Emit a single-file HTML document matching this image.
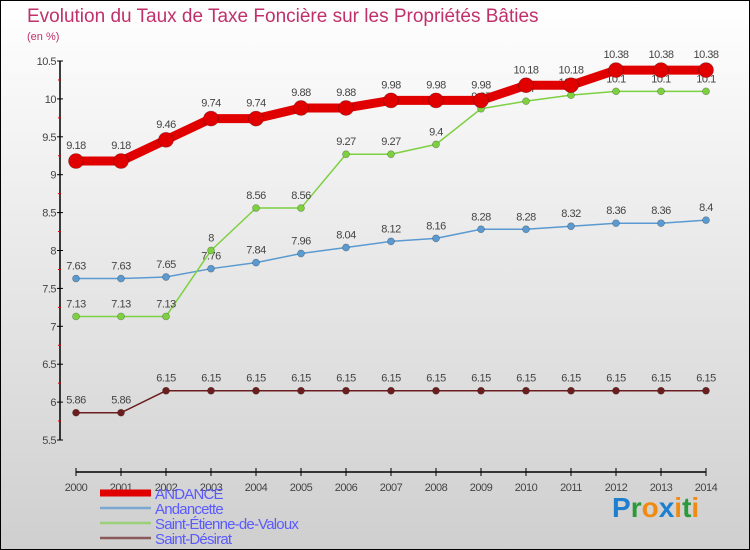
<!DOCTYPE html>
<html><head><meta charset="utf-8"><style>
body{margin:0}
#c{width:750px;height:550px;position:relative;overflow:hidden;box-sizing:border-box;border:1px solid #000;background:linear-gradient(#ffffff,#cfcfcf);font-family:"Liberation Sans",sans-serif}
</style></head><body>
<div id="c">
<svg id="s" width="750" height="550" style="position:absolute;left:-1px;top:-1px">
<text x="27" y="22" font-size="19" fill="#c0306a">Evolution du Taux de Taxe Foncière sur les Propriétés Bâties</text>
<text x="27" y="40" font-size="11" fill="#c0306a">(en %)</text>
<g id="g"></g>
<text x="612" y="517" font-size="28" font-weight="bold" fill="#1e7fd0">P<tspan fill="#2a9a3a">r</tspan><tspan fill="#f08a10">o</tspan><tspan fill="#1e7fd0">x</tspan><tspan fill="#f08a10">i</tspan><tspan fill="#2a9a3a">t</tspan><tspan fill="#f08a10">i</tspan></text>
</svg>
</div>
<script>
const years=[2000,2001,2002,2003,2004,2005,2006,2007,2008,2009,2010,2011,2012,2013,2014];
const yTicks=[5.5,6,6.5,7,7.5,8,8.5,9,9.5,10,10.5];
const andance=[9.18,9.18,9.46,9.74,9.74,9.88,9.88,9.98,9.98,9.98,10.18,10.18,10.38,10.38,10.38];
const andancette=[7.63,7.63,7.65,7.76,7.84,7.96,8.04,8.12,8.16,8.28,8.28,8.32,8.36,8.36,8.4];
const stEtienne=[7.13,7.13,7.13,8,8.56,8.56,9.27,9.27,9.4,9.87,9.97,10.05,10.1,10.1,10.1];
const stDesirat=[5.86,5.86,6.15,6.15,6.15,6.15,6.15,6.15,6.15,6.15,6.15,6.15,6.15,6.15,6.15];
const NS="http://www.w3.org/2000/svg",g=document.getElementById('g');
const xs=i=>76+i*45,ys=v=>440-(v-5.5)*75.8;
function mk(t,a,p){const e=document.createElementNS(NS,t);for(const k in a)e.setAttribute(k,a[k]);(p||g).appendChild(e);return e;}
let ax=mk('line',{x1:60,y1:61,x2:60,y2:440,stroke:'#000','stroke-width':1.5});


let bx=mk('line',{x1:76,y1:472,x2:706,y2:472,stroke:'#000','stroke-width':1.5});


yTicks.forEach((v,i)=>{const y=ys(v);mk('line',{x1:57,y1:y,x2:63,y2:y,stroke:'#000'});
if(i<yTicks.length-1)mk('line',{x1:58,y1:ys(v+0.25),x2:61,y2:ys(v+0.25),stroke:'#d00'});
const t=mk('text',{x:56,y:y+4,'text-anchor':'end','font-size':11,fill:'#444','letter-spacing':'-0.5'});t.textContent=v;

});
years.forEach((yr,i)=>{const x=xs(i);mk('line',{x1:x,y1:468,x2:x,y2:476,stroke:'#000'});
const t=mk('text',{x:x,y:491,'text-anchor':'middle','font-size':11,fill:'#444','letter-spacing':'-0.5'});t.textContent=yr;

});
function series(d,col,w,r,name){const gg=mk('g',{});


mk('polyline',{points:d.map((v,i)=>xs(i)+','+ys(v)).join(' '),fill:'none',stroke:col,'stroke-width':w,'stroke-linejoin':'round'},gg);
d.forEach((v,i)=>{mk('circle',{cx:xs(i),cy:ys(v),r:r,fill:col,stroke:'rgba(0,0,0,0.3)','stroke-width':0.7},gg);
const t=mk('text',{x:xs(i),y:ys(v)-9-(r>5?3:0),'text-anchor':'middle','font-size':11,fill:'#444','letter-spacing':'-0.5'},gg);t.textContent=v;});}
series(stDesirat,'#6b1e1e',1.5,3.5,'series-saint-desirat');
series(andancette,'#5a9ad0',1.5,3.5,'series-andancette');
series(stEtienne,'#7dd040',1.5,3.5,'series-saint-etienne');
series(andance,'#e00000',9,7.5,'series-andance');
const leg=[['ANDANCE','#e00000',7],['Andancette','#7aa8d0',2.5],['Saint-Étienne-de-Valoux','#9ad07a',2.5],['Saint-Désirat','#8a5a5a',2.5]];
leg.forEach((l,i)=>{const y=493+i*15;const gg=mk('g',{});


mk('line',{x1:100,y1:y,x2:151,y2:y,stroke:l[1],'stroke-width':l[2]},gg);
const t=mk('text',{x:155,y:y+6,'font-size':15,fill:'#5a5aff','letter-spacing':'-0.8'},gg);t.textContent=l[0];});
</script>
</body></html>
